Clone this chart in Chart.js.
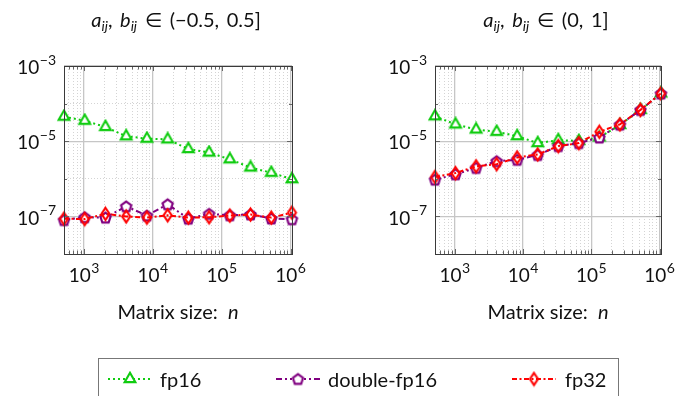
<!DOCTYPE html>
<html>
<head>
<meta charset="utf-8">
<script src="https://cdn.jsdelivr.net/npm/chart.js@4.4.1/dist/chart.umd.min.js"></script>
<style>
body { margin: 0; background: #fff; }
#wrap { position: relative; width: 675px; height: 396px; overflow: hidden; font-family: Lato, "DejaVu Sans", sans-serif; color: #111; }
#wrap canvas.plot { position: absolute; left: 0; top: 0; }
.txt { position: absolute; text-align: center; font-size: 20px; line-height: 22px; white-space: nowrap; }
.txt sub { font-size: 14px; font-style: italic; vertical-align: -4px; line-height: 0; }
#legend { position: absolute; left: 98px; top: 358px; width: 521px; height: 60px; border: 1px solid #777; box-sizing: border-box; }
#legend canvas { position: absolute; }
.lg { position: absolute; top: 10px; font-size: 20px; line-height: 20px; white-space: nowrap; }
</style>
</head>
<body>
<div id="wrap">
  <canvas class="plot" id="leftChart" width="675" height="396"></canvas>
  <canvas class="plot" id="rightChart" width="675" height="396"></canvas>
  <div class="txt" style="left:26px;top:8px;width:300px;"><i>a</i><sub>ij</sub>,&thinsp; <i>b</i><sub>ij</sub> &thinsp;∈&thinsp; (−0.5,&thinsp; 0.5]</div>
  <div class="txt" style="left:396px;top:8px;width:300px;"><i>a</i><sub>ij</sub>,&thinsp; <i>b</i><sub>ij</sub> &thinsp;∈&thinsp; (0,&thinsp; 1]</div>
  <div class="txt" style="left:28px;top:300px;width:300px;">Matrix size:&nbsp; <i>n</i></div>
  <div class="txt" style="left:398px;top:300px;width:300px;">Matrix size:&nbsp; <i>n</i></div>
  <div id="legend"></div>
</div>
<script>
// matrix sizes 2^9 .. 2^20
const sizes = [512, 1024, 2048, 4096, 8192, 16384, 32768, 65536, 131072, 262144, 524288, 1048576];

// entries in (-0.5, 0.5]
const fp16Left   = [4.5e-5, 3.5e-5, 2.4e-5, 1.35e-5, 1.17e-5, 1.12e-5, 6.2e-6, 5.0e-6, 3.3e-6, 2.0e-6, 1.45e-6, 9.8e-7];
const doubleLeft = [8.0e-8, 9.5e-8, 9.3e-8, 1.85e-7, 1.05e-7, 2.1e-7, 8.7e-8, 1.17e-7, 1.07e-7, 1.13e-7, 8.8e-8, 8.4e-8];
const fp32Left   = [8.7e-8, 8.5e-8, 1.17e-7, 1.0e-7, 9.3e-8, 1.07e-7, 9.3e-8, 9.5e-8, 1.05e-7, 1.12e-7, 9.3e-8, 1.26e-7];

// entries in (0, 1]
const fp16Right   = [4.6e-5, 2.8e-5, 2.05e-5, 1.78e-5, 1.36e-5, 8.9e-6, 1.07e-5, 1.02e-5, 1.26e-5, 2.7e-5, 6.8e-5, 1.87e-4];
const doubleRight = [9.5e-7, 1.32e-6, 1.95e-6, 2.95e-6, 3.2e-6, 4.3e-6, 7.4e-6, 8.9e-6, 1.25e-5, 2.75e-5, 6.8e-5, 1.85e-4];
const fp32Right   = [1.12e-6, 1.42e-6, 2.15e-6, 2.45e-6, 3.7e-6, 4.45e-6, 7.4e-6, 8.9e-6, 1.78e-5, 2.8e-5, 6.8e-5, 1.87e-4];

const xLabelExp = [3, 4, 5, 6];
const yLabelExp = [-7, -5, -3];
const xMin = 512, xMax = 1048576, yMin = 1e-8, yMax = 1e-3;

const GREEN = '#10cc10', PURPLE = '#800080', RED = '#ff0000';

function markCanvas(w, h, draw) {
  const c = document.createElement('canvas');
  c.width = w; c.height = h;
  const g = c.getContext('2d');
  g.lineWidth = 2.1;
  g.lineJoin = 'miter';
  draw(g, w / 2, h / 2);
  return c;
}
const triMark = markCanvas(16, 16, (g, cx, cy) => {
  const r = 6.2;
  g.beginPath();
  for (let k = 0; k < 3; k++) {
    const a = -Math.PI / 2 + k * 2 * Math.PI / 3;
    g.lineTo(cx + r * Math.cos(a), cy + r * Math.sin(a));
  }
  g.closePath();
  g.fillStyle = '#fff'; g.fill();
  g.strokeStyle = GREEN; g.stroke();
});
const pentMark = markCanvas(15, 15, (g, cx, cy) => {
  const r = 5.4;
  g.beginPath();
  for (let k = 0; k < 5; k++) {
    const a = -Math.PI / 2 + k * 2 * Math.PI / 5;
    g.lineTo(cx + r * Math.cos(a), cy + 0.5 + r * Math.sin(a));
  }
  g.closePath();
  g.fillStyle = '#fff'; g.fill();
  g.strokeStyle = PURPLE; g.stroke();
});
const diaMark = markCanvas(13, 17, (g, cx, cy) => {
  g.beginPath();
  g.moveTo(cx, cy - 6); g.lineTo(cx + 4, cy); g.lineTo(cx, cy + 6); g.lineTo(cx - 4, cy);
  g.closePath();
  g.strokeStyle = RED; g.stroke();
});

const DASH16 = [2, 3];
const DASHDB = [6, 3, 2, 3, 2, 3];
const DASH32 = [5, 2.5, 2, 2.5];

function logTicks(min, max, labelled) {
  const out = [];
  const e0 = Math.floor(Math.log10(min)), e1 = Math.ceil(Math.log10(max));
  for (let e = e0; e <= e1; e++) {
    for (let k = 1; k < 10; k++) {
      const v = k * Math.pow(10, e);
      if (v < min * 0.999 || v > max * 1.001) continue;
      out.push({ value: v, major: k === 1 && labelled.includes(e), decade: k === 1 });
    }
  }
  return out;
}

// minor grid: x gets every k*10^n, y only the unlabelled decades
function gridOpts(minorAll) {
  return {
    drawTicks: false,
    color: c => {
      if (!c.tick) return 'rgba(0,0,0,0)';
      if (c.tick.major) return '#c6c6c6';
      if (minorAll || c.tick.decade) return '#d4d4d4';
      return 'rgba(0,0,0,0)';
    },
    lineWidth: c => (c.tick && c.tick.major) ? 1.3 : 1
  };
}
function borderOpts() {
  return {
    display: false,
    dash: c => (c.tick && c.tick.major) ? [] : [1, 2]
  };
}

function drawPow(ctx, exp, x, y, align) {
  const base = '10';
  const ex = exp < 0 ? '\u2212' + (-exp) : String(exp);
  ctx.font = '19px Lato';
  const wb = ctx.measureText(base).width;
  ctx.font = '14px Lato';
  const we = ctx.measureText(ex).width;
  const total = wb + we + 0.5;
  const left = align === 'right' ? x - total : x - total / 2;
  ctx.fillStyle = '#111';
  ctx.textBaseline = 'middle';
  ctx.textAlign = 'left';
  ctx.font = '19px Lato';
  ctx.fillText(base, left, y + 2);
  ctx.font = '14px Lato';
  ctx.fillText(ex, left + wb + 0.5, y - 6);
}

const framePlugin = {
  id: 'frame',
  afterDraw(chart) {
    const { ctx, chartArea: a, scales } = chart;
    const xs = scales.x, ys = scales.y;
    ctx.save();
    // inside tick marks on all four sides
    ctx.strokeStyle = '#666';
    ctx.lineWidth = 1;
    ctx.beginPath();
    xs.ticks.forEach(t => {
      const px = Math.round(xs.getPixelForValue(t.value)) + 0.5;
      const len = t.major ? 5 : 3.5;
      ctx.moveTo(px, a.bottom); ctx.lineTo(px, a.bottom - len);
      ctx.moveTo(px, a.top); ctx.lineTo(px, a.top + len);
    });
    ys.ticks.forEach(t => {
      if (!t.decade) return;
      const py = Math.round(ys.getPixelForValue(t.value)) + 0.5;
      const len = t.major ? 5 : 3;
      ctx.moveTo(a.left, py); ctx.lineTo(a.left + len, py);
      ctx.moveTo(a.right, py); ctx.lineTo(a.right - len, py);
    });
    ctx.stroke();
    // frame
    ctx.strokeStyle = '#3a3a3a';
    ctx.strokeRect(Math.round(a.left) + 0.5, Math.round(a.top) + 0.5,
      Math.round(a.right - a.left), Math.round(a.bottom - a.top));
    // labels
    xLabelExp.forEach(e => drawPow(ctx, e, xs.getPixelForValue(Math.pow(10, e)), a.bottom + 20, 'center'));
    yLabelExp.forEach(e => drawPow(ctx, e, a.left - 8, ys.getPixelForValue(Math.pow(10, e)), 'right'));
    ctx.restore();
  }
};

function makeChart(id, pad, fp16, dbl, fp32) {
  const pts = arr => arr.map((v, i) => ({ x: sizes[i], y: v }));
  return new Chart(document.getElementById(id), {
    type: 'line',
    data: {
      datasets: [
        { label: 'fp16', data: pts(fp16), borderColor: GREEN, borderWidth: 2, borderDash: DASH16,
          pointStyle: triMark, pointRadius: 6, order: 2, clip: false },
        { label: 'double-fp16', data: pts(dbl), borderColor: PURPLE, borderWidth: 2, borderDash: DASHDB,
          pointStyle: pentMark, pointRadius: 6, order: 1, clip: false },
        { label: 'fp32', data: pts(fp32), borderColor: RED, borderWidth: 2, borderDash: DASH32,
          pointStyle: diaMark, pointRadius: 6, order: 0, clip: false }
      ]
    },
    options: {
      responsive: false,
      animation: false,
      events: [],
      layout: { padding: pad },
      plugins: { legend: { display: false }, tooltip: { enabled: false } },
      elements: { line: { tension: 0, fill: false } },
      scales: {
        x: {
          type: 'logarithmic', min: xMin, max: xMax,
          afterBuildTicks: s => { s.ticks = logTicks(xMin, xMax, xLabelExp); },
          ticks: { display: false },
          grid: gridOpts(true), border: borderOpts()
        },
        y: {
          type: 'logarithmic', min: yMin, max: yMax,
          afterBuildTicks: s => { s.ticks = logTicks(yMin, yMax, yLabelExp); },
          ticks: { display: false },
          grid: gridOpts(false), border: borderOpts()
        }
      }
    },
    plugins: [framePlugin]
  });
}

makeChart('leftChart', { left: 64, right: 383, top: 66, bottom: 142 }, fp16Left, doubleLeft, fp32Left);
makeChart('rightChart', { left: 435, right: 14, top: 66, bottom: 142 }, fp16Right, doubleRight, fp32Right);

// legend
const legendItems = [
  { name: 'fp16', color: GREEN, dash: DASH16, mark: triMark, left: 8, textLeft: 61 },
  { name: 'double-fp16', color: PURPLE, dash: DASHDB, mark: pentMark, left: 176, textLeft: 229 },
  { name: 'fp32', color: RED, dash: DASH32, mark: diaMark, left: 412, textLeft: 466 }
];
const legend = document.getElementById('legend');
legendItems.forEach(it => {
  const c = document.createElement('canvas');
  c.width = 46; c.height = 18;
  c.style.left = it.left + 'px';
  c.style.top = '11px';
  const g = c.getContext('2d');
  g.strokeStyle = it.color; g.lineWidth = 2; g.setLineDash(it.dash);
  g.beginPath(); g.moveTo(1, 9); g.lineTo(45, 9); g.stroke();
  g.drawImage(it.mark, 23 - it.mark.width / 2, 9 - it.mark.height / 2);
  legend.appendChild(c);
  const s = document.createElement('div');
  s.className = 'lg';
  s.style.left = it.textLeft + 'px';
  s.textContent = it.name;
  legend.appendChild(s);
});
</script>
</body>
</html>
